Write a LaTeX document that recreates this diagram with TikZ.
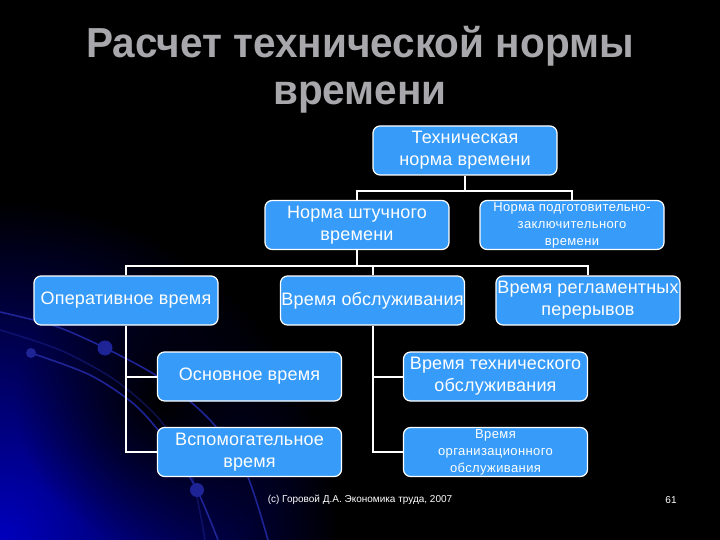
\documentclass[tikz,border=0pt]{standalone}
\usepackage{fontspec}
\setmainfont{Liberation Sans}
\usetikzlibrary{fadings}
\tikzfading[name=darkblob, inner color=transparent!0, outer color=transparent!100]
\definecolor{boxblue}{RGB}{55,155,250}
\definecolor{titlegray}{RGB}{168,168,172}
\definecolor{glowblue}{RGB}{0,0,190}
\definecolor{arcblue}{RGB}{30,36,150}
\begin{document}
\begin{tikzpicture}[x=1pt,y=-1pt,
  orgbox/.style={draw=white, line width=1.2pt, fill=boxblue, rounded corners=7pt,
    minimum width=184pt, minimum height=49pt, inner sep=0pt, text=white, align=center,
    font=\fontsize{18}{22}\selectfont\addfontfeature{LetterSpace=1}},
  smalltext/.style={font=\fontsize{13}{17}\selectfont\addfontfeature{LetterSpace=3}},
  link/.style={draw=white, line width=2pt},
  arc/.style={draw=arcblue, line width=1.6pt},
  titletext/.style={text=titlegray, font=\fontsize{42}{47}\selectfont\bfseries, inner sep=0pt, anchor=base},
  foottext/.style={text=white, font=\fontsize{10}{12}\selectfont, inner sep=0pt}]
\useasboundingbox (0,0) rectangle (720,540);
\fill[black] (0,0) rectangle (720,540);
\begin{scope}
  \clip (0,0) rectangle (720,540);
  \shade[inner color=glowblue, outer color=black] (0,540) circle (340);
  \fill[black, path fading=darkblob] (165,400) circle (150);
  \draw[arc] plot[smooth] coordinates {(0,312) (55,326) (105,348) (160,378) (210,420) (245,470) (268,540)};
  \draw[arc] plot[smooth] coordinates {(31,353) (90,375) (135,405) (168,443) (197,490) (218,540)};
  \draw[arc, draw opacity=0.45] plot[smooth] coordinates {(0,330) (60,350) (115,380) (160,420) (190,470) (205,540)};
  \fill[arcblue] (105,348) circle (7.5);
  \fill[arcblue] (31,353) circle (5);
  \fill[arcblue] (197,490) circle (7);
\end{scope}

\node[titletext] (t1) at (360,58) {\scalebox{0.965}[1]{Расчет технической нормы}};
\node[titletext] (t2) at (360,105) {\scalebox{0.965}[1]{времени}};

\node[orgbox] (tn)  at (465,150.5) {Техническая\\норма времени};
\node[orgbox] (ns)  at (357,225)   {Норма штучного\\времени};
\node[orgbox, smalltext] (npz) at (572,225) {Норма подготовительно-\\заключительного\\времени};
\node[orgbox] (op)  at (126,300.5) {Оперативное время};
\node[orgbox] (obs) at (372.5,300.5) {Время обслуживания};
\node[orgbox] (reg) at (588,300.5) {Время регламентных\\перерывов};
\node[orgbox] (osn) at (249.5,376.5) {Основное время};
\node[orgbox] (vsp) at (249.5,452) {Вспомогательное\\время};
\node[orgbox] (teh) at (495.5,376.5) {Время технического\\обслуживания};
\node[orgbox, smalltext] (org) at (495.5,452) {Время\\организационного\\обслуживания};

\coordinate (bus1) at (0,191);
\coordinate (bus2) at (0,266);
\draw[link] (tn.south) -- (tn.south |- bus1);
\draw[link] (ns.north) -- (ns.north |- bus1) -| (npz.north);
\draw[link] (ns.south) -- (ns.south |- bus2);
\draw[link] (op.north) -- (op.north |- bus2) -| (reg.north);
\draw[link] (obs.north) -- (obs.north |- bus2);
\draw[link] (op.south) |- (vsp.west);
\draw[link] (op.south |- osn.west) -- (osn.west);
\draw[link] (obs.south) |- (org.west);
\draw[link] (obs.south |- teh.west) -- (teh.west);

\node[foottext] (foot) at (360,500) {(c) Горовой Д.А. Экономика труда, 2007};
\node[foottext] (page) at (671,500) {61};
\end{tikzpicture}
\end{document}
